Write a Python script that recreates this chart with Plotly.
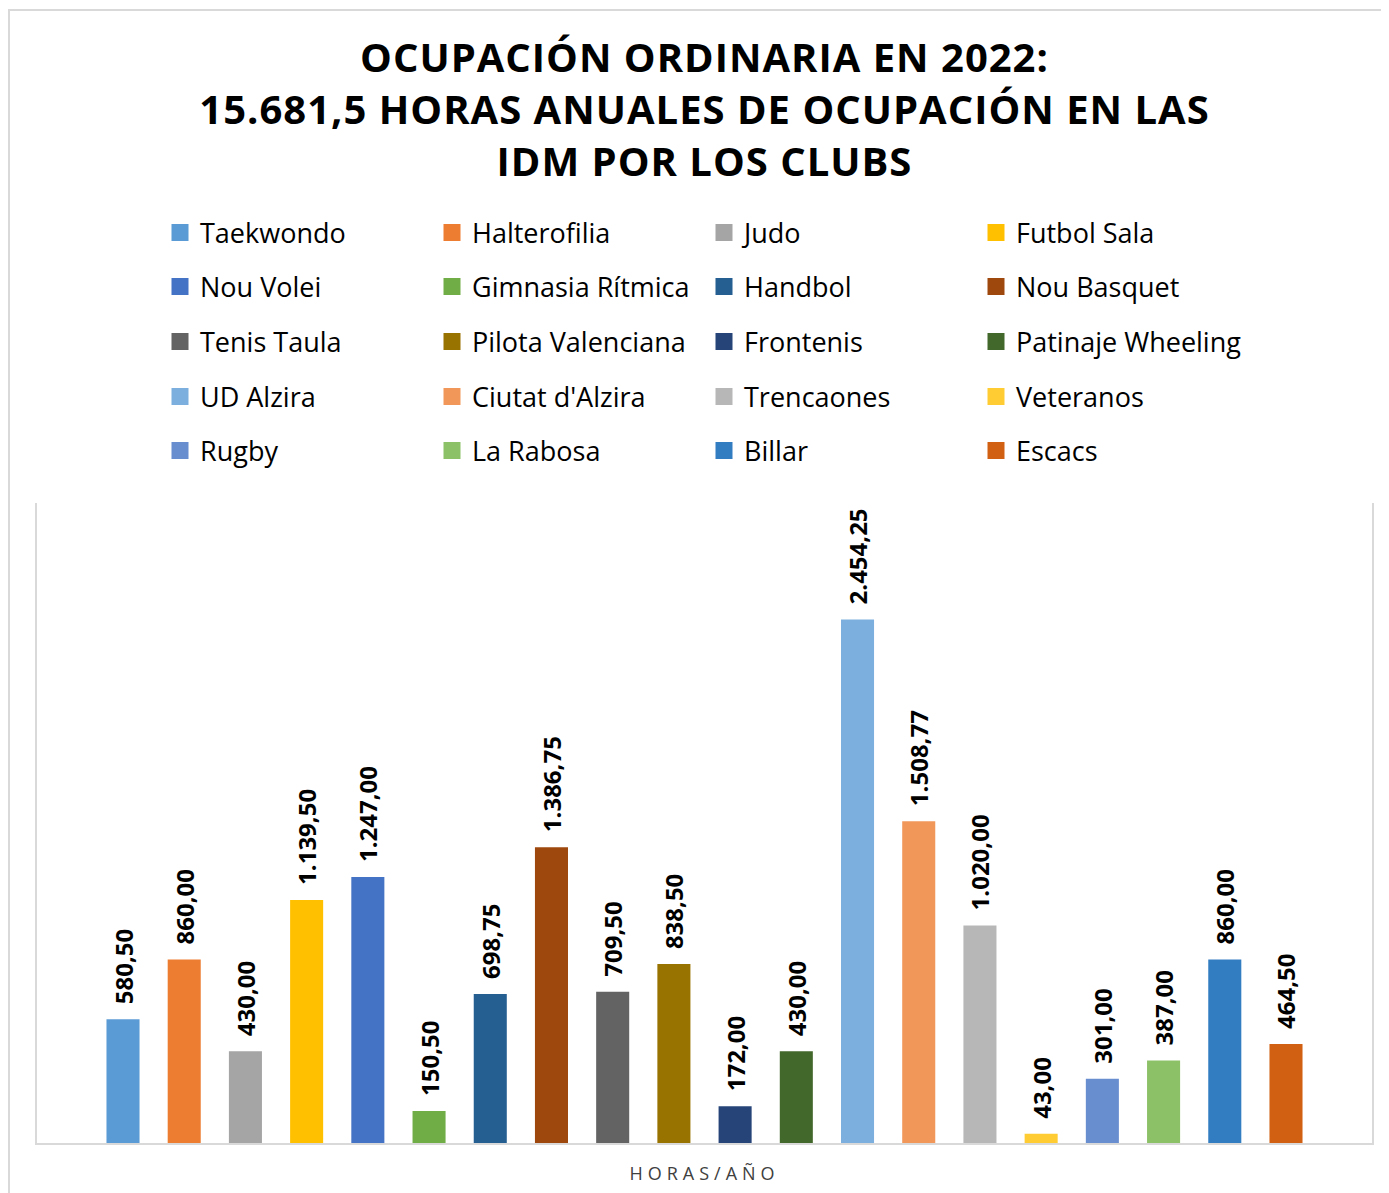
import plotly.graph_objects as go

category = ["HORAS/AÑO"]
clubs = ["Taekwondo", "Halterofilia", "Judo", "Futbol Sala",
         "Nou Volei", "Gimnasia Rítmica", "Handbol", "Nou Basquet",
         "Tenis Taula", "Pilota Valenciana", "Frontenis", "Patinaje Wheeling",
         "UD Alzira", "Ciutat d'Alzira", "Trencaones", "Veteranos",
         "Rugby", "La Rabosa", "Billar", "Escacs"]
hours = [580.50, 860.00, 430.00, 1139.50,
         1247.00, 150.50, 698.75, 1386.75,
         709.50, 838.50, 172.00, 430.00,
         2454.25, 1508.77, 1020.00, 43.00,
         301.00, 387.00, 860.00, 464.50]
colors = ["#5B9BD5", "#ED7D31", "#A5A5A5", "#FFC000",
          "#4472C4", "#70AD47", "#255E91", "#9E480E",
          "#636363", "#997300", "#264478", "#43682B",
          "#7CAFDD", "#F1975A", "#B7B7B7", "#FFCD33",
          "#698ED0", "#8CC168", "#327DC2", "#D26012"]

OFF = 8  # page body margin
W, H = 1389 - OFF, 1193 - OFF
L, R, T, B = 37 - OFF, 1372 - OFF, 503 - OFF, 1143 - OFF
pw, ph = R - L, B - T

def py(y):
    return (B - (y - OFF)) / ph

def px(x):
    return ((x - OFF) - L) / pw

fig = go.Figure()
legend_names = ["legend", "legend2", "legend3", "legend4", "legend5"]
for i, (name, val, col) in enumerate(zip(clubs, hours, colors)):
    fig.add_trace(go.Bar(
        x=category, y=[val], name=name,
        marker=dict(color=col, line=dict(width=0)),
        texttemplate="\u2002%{y:,.2f}",
        textposition="outside", textangle=-90,
        constraintext="none", cliponaxis=False,
        textfont=dict(family="Open Sans", size=24, color="#000000", weight="bold"),
        legend=legend_names[i // 4],
    ))

row_centers = [233, 287, 342, 397, 451]
legend_common = dict(
    orientation="h", xanchor="left", yanchor="middle",
    x=px(160), entrywidth=227, entrywidthmode="pixels",
    font=dict(family="Open Sans", size=27, color="#000000"),
    bgcolor="rgba(0,0,0,0)", borderwidth=0, traceorder="normal",
)
legend_layout = {}
for k, ln in enumerate(legend_names):
    legend_layout[ln] = dict(legend_common, y=py(row_centers[k]))

fig.update_layout(
    width=W, height=H,
    margin=dict(l=L, r=W - R, t=T, b=H - B, autoexpand=False),
    paper_bgcolor="white", plot_bgcolor="white",
    separators=",.",
    barmode="group", bargap=0.083, bargroupgap=0.46,
    showlegend=True,
    title=dict(
        text="OCUPACIÓN ORDINARIA EN 2022:<br>15.681,5 HORAS ANUALES DE OCUPACIÓN EN LAS<br>IDM POR LOS CLUBS",
        x=0.5, xref="paper", xanchor="center",
        y=1 - 64 / H, yref="container", yanchor="middle",
        font=dict(family="Open Sans", size=40, color="#000000", weight="bold"),
    ),
    xaxis=dict(
        showline=True, linecolor="#D9D9D9", linewidth=2,
        showgrid=False, zeroline=False, ticks="",
        tickfont=dict(family="Open Sans", size=18, color="#404040"),
        ticklabelstandoff=13,
    ),
    yaxis=dict(
        range=[0, 3000], showline=True, mirror=True, linecolor="#D9D9D9", linewidth=2,
        showgrid=False, zeroline=False, showticklabels=False, ticks="",
    ),
    shapes=[dict(
        type="rect", xref="paper", yref="paper",
        x0=px(9), x1=px(1400), y0=py(1205), y1=py(10),
        line=dict(color="#D9D9D9", width=2), fillcolor="rgba(0,0,0,0)", layer="below",
    )],
    **legend_layout,
)

post = """
document.querySelectorAll('.gtitle').forEach(function(e){e.style.letterSpacing='1px';});
document.querySelectorAll('.xtick text').forEach(function(e){e.style.letterSpacing='5px';});
document.querySelectorAll('.legendpoints path').forEach(function(e){e.setAttribute('d','M8.5,8.5H-8.5V-8.5H8.5Z');});
"""
fig.write_html("out.html", post_script=post)
